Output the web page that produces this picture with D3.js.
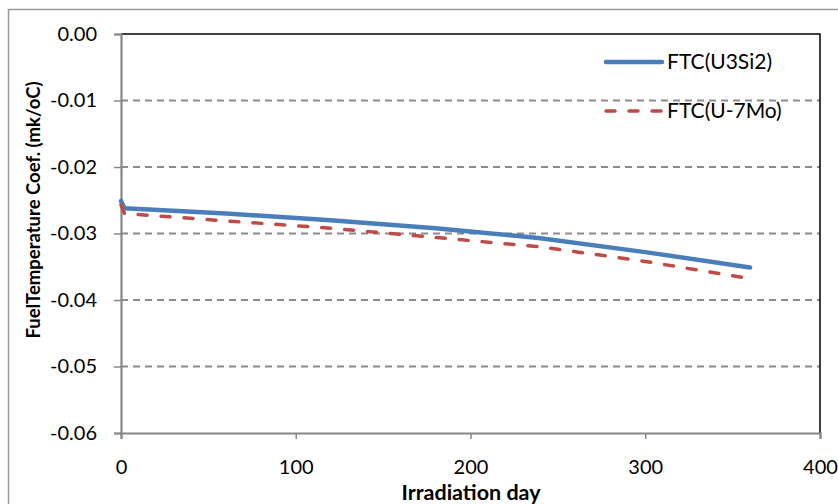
<!DOCTYPE html>
<html>
<head>
<meta charset="utf-8">
<script src="https://cdn.jsdelivr.net/npm/d3@7/dist/d3.min.js"></script>
<style>
  html, body { margin: 0; padding: 0; background: #fff; }
  svg { display: block; font-family: Lato, "Open Sans", sans-serif; }
</style>
</head>
<body>
<svg id="chart" width="838" height="504"></svg>
<script>
// Irradiation days at which the coefficients were evaluated
const days = [0, 2, 60, 120, 180, 240, 300, 360];
// Fuel temperature coefficient (mk/oC) for each fuel type
const ftcU3Si2 = [-0.0251, -0.0262, -0.0270, -0.0280, -0.0292, -0.0307, -0.0328, -0.0351];
const ftcU7Mo  = [-0.0257, -0.0270, -0.0281, -0.0292, -0.0306, -0.0320, -0.0342, -0.0368];
const seriesNames = ["FTC(U3Si2)", "FTC(U-7Mo)"];
const xTicks = [0, 100, 200, 300, 400];
const yTicks = [0, -0.01, -0.02, -0.03, -0.04, -0.05, -0.06];

const svg = d3.select("#chart");
const plot = { left: 121, right: 820, top: 34, bottom: 433 };

const x = d3.scaleLinear().domain([0, 400]).range([plot.left, plot.right]);
const y = d3.scaleLinear().domain([-0.06, 0]).range([plot.bottom, plot.top]);

// chart area frame
svg.append("path")
  .attr("d", "M8.5,504 V9.5 H838")
  .attr("fill", "none").attr("stroke", "#9a9a9a").attr("stroke-width", 1.5);

// horizontal gridlines
svg.append("g").selectAll("line")
  .data(yTicks.filter(t => t !== 0 && t !== -0.06))
  .join("line")
  .attr("x1", plot.left).attr("x2", plot.right)
  .attr("y1", d => y(d)).attr("y2", d => y(d))
  .attr("stroke", "#8c8c8c").attr("stroke-width", 2)
  .attr("stroke-dasharray", "7,5");

// top and right plot borders
svg.append("path")
  .attr("d", `M${plot.left},${y(0)} H${plot.right} V${plot.bottom}`)
  .attr("fill", "none").attr("stroke", "#000").attr("stroke-width", 1.5);

// y axis
const yAxis = svg.append("g")
  .attr("transform", `translate(${plot.left},0)`)
  .call(d3.axisLeft(y).tickValues(yTicks).tickFormat(d3.format(".2f")).tickSize(7).tickPadding(17));
yAxis.select(".domain").attr("stroke", "#868686").attr("stroke-width", 2.2);
yAxis.selectAll(".tick line").attr("stroke", "#868686").attr("stroke-width", 1.5);
yAxis.selectAll(".tick text")
  .text(d => d3.format(".2f")(d).replace("−", "-"))
  .attr("font-size", 20).attr("fill", "#000").attr("font-family", "Lato, sans-serif");

// x axis
const xAxis = svg.append("g")
  .attr("transform", `translate(0,${plot.bottom})`)
  .call(d3.axisBottom(x).tickValues(xTicks).tickFormat(d3.format("d")).tickSize(6).tickPadding(21));
xAxis.select(".domain").attr("stroke", "#868686").attr("stroke-width", 2.2);
xAxis.selectAll(".tick line").attr("stroke", "#868686").attr("stroke-width", 1.5);
xAxis.selectAll(".tick text")
  .attr("font-size", 20).attr("fill", "#000").attr("font-family", "Lato, sans-serif");

// axis titles
svg.append("text")
  .attr("x", 471).attr("y", 500)
  .attr("text-anchor", "middle")
  .attr("font-size", 21.5).attr("font-weight", "bold")
  .text("Irradiation day");

svg.append("text")
  .attr("transform", "translate(40,210) rotate(-90)")
  .attr("text-anchor", "middle")
  .attr("font-size", 18.5).attr("font-weight", "bold")
  .text("FuelTemperature Coef. (mk/oC)");

// data lines
const line = d3.line().x(d => x(d[0])).y(d => y(d[1]));
const styles = [
  { color: "#4a7ebb", width: 4.5, dash: null },
  { color: "#be4b48", width: 3.5, dash: "9,14" }
];
[ftcU3Si2, ftcU7Mo].forEach((vals, i) => {
  svg.append("path")
    .datum(days.map((d, j) => [d, vals[j]]))
    .attr("d", line)
    .attr("fill", "none")
    .attr("stroke", styles[i].color)
    .attr("stroke-width", styles[i].width)
    .attr("stroke-linecap", "round")
    .attr("stroke-linejoin", "round")
    .attr("stroke-dasharray", styles[i].dash);
});

// legend
const legend = svg.append("g");
seriesNames.forEach((name, i) => {
  const ly = 62 + i * 49;
  legend.append("line")
    .attr("x1", 606).attr("x2", 662).attr("y1", ly).attr("y2", ly)
    .attr("stroke", styles[i].color)
    .attr("stroke-width", styles[i].width)
    .attr("stroke-linecap", "round")
    .attr("stroke-dasharray", i === 1 ? "9,14" : null);
  legend.append("text")
    .attr("x", 667).attr("y", ly + 7)
    .attr("font-size", 21).attr("fill", "#000")
    .text(name);
});
</script>
</body>
</html>
